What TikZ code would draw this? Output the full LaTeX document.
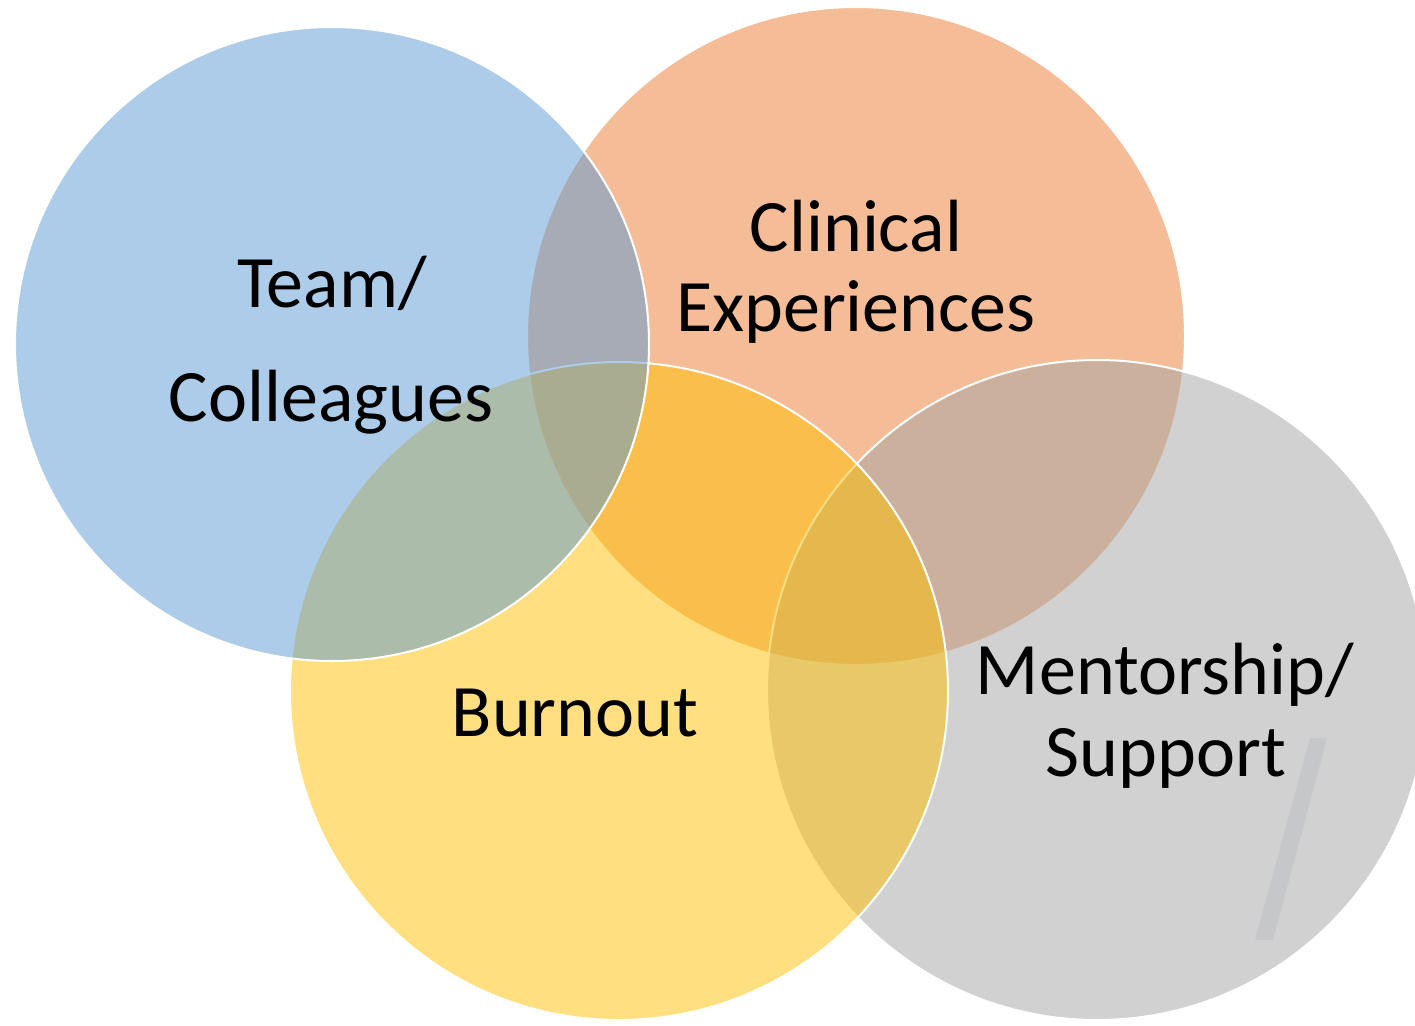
\documentclass[tikz,border=0pt]{standalone}
\usepackage{fontspec}
\setmainfont{Carlito}
\definecolor{cblue}{HTML}{5B9BD5}
\definecolor{corange}{HTML}{ED7D31}
\definecolor{cgold}{HTML}{FFC000}
\definecolor{cgray}{HTML}{A5A5A5}
\definecolor{slashgray}{HTML}{C6C7C9}
\begin{document}
\begin{tikzpicture}[x=1pt,y=-1pt,
  venn/.style={draw=white,line width=2pt,fill opacity=0.5},
  lbl/.style={anchor=base,inner sep=0pt,font=\fontsize{74}{80}\selectfont,text=black}]
\useasboundingbox (0,0) rectangle (1415,1025);
\clip (0,0) rectangle (1415,1025);
\fill[white] (0,0) rectangle (1415,1025);
\path[venn,fill=corange] (856,336) circle[radius=329pt];
\path[venn,fill=cgray] (1097,690) circle[radius=330pt];
\path[venn,fill=cgold] (619,691) circle[radius=329pt];
\path[venn,fill=cblue] (332,344) circle[radius=317pt];
\fill[slashgray] (1310,738) -- (1327,738) -- (1273,940) -- (1255,940) -- cycle;
\node[lbl] (team) at (332,307) {Team/};
\node[lbl] (coll) at (331,421) {Colleagues};
\node[lbl] (clin) at (856,251) {Clinical};
\node[lbl] (expe) at (856,331) {Experiences};
\node[lbl] (burn) at (575,736) {Burnout};
\node[lbl] (ment) at (1165,694) {Mentorship/};
\node[lbl] (supp) at (1166,776) {Support};
\end{tikzpicture}
\end{document}
